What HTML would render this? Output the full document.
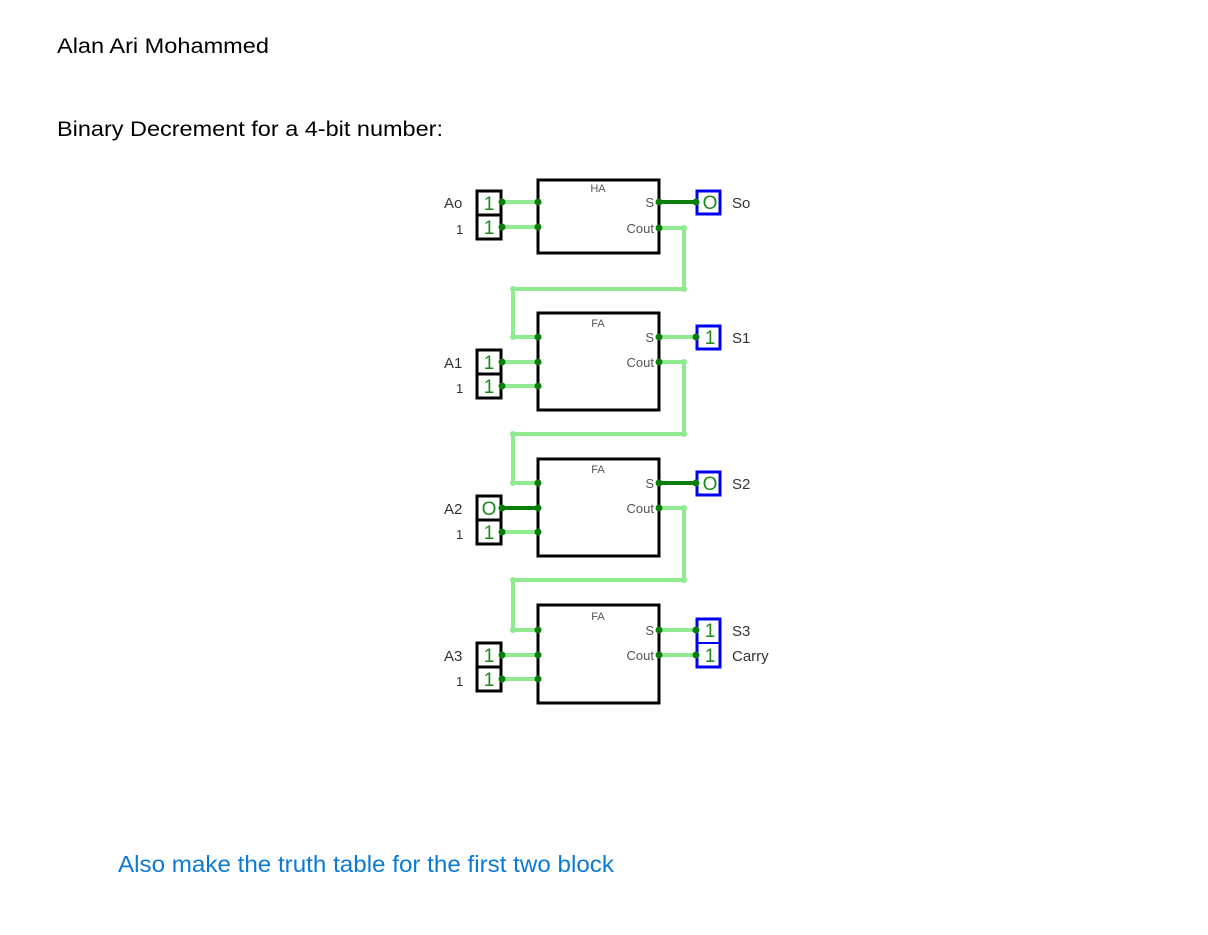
<!DOCTYPE html>
<html><head><meta charset="utf-8"><style>
html,body{margin:0;padding:0;background:#fff;width:1208px;height:935px;overflow:hidden}
svg{display:block}
</style></head><body>
<svg width="1208" height="935" viewBox="0 0 1208 935" xmlns="http://www.w3.org/2000/svg" font-family="Liberation Sans, sans-serif">
<rect width="1208" height="935" fill="#fff"/>
<text x="57" y="53" font-size="21" fill="#000" textLength="212" lengthAdjust="spacingAndGlyphs">Alan Ari Mohammed</text>
<text x="57" y="136" font-size="21" fill="#000" textLength="386" lengthAdjust="spacingAndGlyphs">Binary Decrement for a 4-bit number:</text>
<text x="118" y="872" font-size="23" fill="#0a7ad6" textLength="496" lengthAdjust="spacingAndGlyphs">Also make the truth table for the first two block</text>

<g stroke-linecap="square">
<!-- light wires -->
<g stroke="#90ea90" stroke-width="4" fill="none">
 <!-- block0 -->
 <line x1="501" y1="202" x2="538" y2="202"/>
 <line x1="501" y1="227" x2="538" y2="227"/>
 <polyline points="659,228 684,228 684,289 513,289 513,337 538,337"/>
 <!-- block1 -->
 <line x1="501" y1="362" x2="538" y2="362"/>
 <line x1="501" y1="386" x2="538" y2="386"/>
 <line x1="659" y1="337" x2="696" y2="337"/>
 <polyline points="659,362 684,362 684,434 513,434 513,483 538,483"/>
 <!-- block2 -->
 <line x1="501" y1="532" x2="538" y2="532"/>
 <polyline points="659,508 684,508 684,580 513,580 513,630 538,630"/>
 <!-- block3 -->
 <line x1="501" y1="655" x2="538" y2="655"/>
 <line x1="501" y1="679" x2="538" y2="679"/>
 <line x1="659" y1="630" x2="696" y2="630"/>
 <line x1="659" y1="655" x2="696" y2="655"/>
</g>
<!-- dark wires -->
<g stroke="#0a7d0a" stroke-width="4">
 <line x1="659" y1="202" x2="696" y2="202"/>
 <line x1="659" y1="483" x2="696" y2="483"/>
 <line x1="501" y1="508" x2="538" y2="508"/>
</g>
</g>
<!-- light endpoints -->
<g fill="#90ea90">
 <circle cx="684" cy="228" r="3"/><circle cx="684" cy="289" r="3"/><circle cx="513" cy="289" r="3"/><circle cx="513" cy="337" r="3"/>
 <circle cx="684" cy="362" r="3"/><circle cx="684" cy="434" r="3"/><circle cx="513" cy="434" r="3"/><circle cx="513" cy="483" r="3"/>
 <circle cx="684" cy="508" r="3"/><circle cx="684" cy="580" r="3"/><circle cx="513" cy="580" r="3"/><circle cx="513" cy="630" r="3"/>
</g>

<!-- blocks -->
<g fill="none" stroke="#000" stroke-width="3">
 <rect x="538" y="180" width="121" height="73"/>
 <rect x="538" y="313" width="121" height="97"/>
 <rect x="538" y="459" width="121" height="97"/>
 <rect x="538" y="605" width="121" height="98"/>
</g>
<g font-size="11" fill="#555" text-anchor="middle">
 <text x="598" y="192">HA</text>
 <text x="598" y="327">FA</text>
 <text x="598" y="473">FA</text>
 <text x="598" y="620">FA</text>
</g>
<g font-size="13" fill="#555" text-anchor="end">
 <text x="654" y="207">S</text><text x="654" y="233">Cout</text>
 <text x="654" y="342">S</text><text x="654" y="367">Cout</text>
 <text x="654" y="488">S</text><text x="654" y="513">Cout</text>
 <text x="654" y="635">S</text><text x="654" y="660">Cout</text>
</g>

<!-- input boxes -->
<g fill="#fff" stroke="#000" stroke-width="3">
 <rect x="477" y="191" width="24" height="24"/><rect x="477" y="215" width="24" height="24"/>
 <rect x="477" y="350" width="24" height="24"/><rect x="477" y="374" width="24" height="24"/>
 <rect x="477" y="496" width="24" height="24"/><rect x="477" y="520" width="24" height="24"/>
 <rect x="477" y="643" width="24" height="24"/><rect x="477" y="667" width="24" height="24"/>
</g>
<!-- output boxes -->
<g fill="#fff" stroke="#0000ee" stroke-width="3">
 <rect x="697" y="191" width="23" height="23"/>
 <rect x="697" y="326" width="23" height="23"/>
 <rect x="697" y="472" width="23" height="23"/>
 <rect x="697" y="619" width="23" height="48"/>
</g>
<line x1="697" y1="643" x2="720" y2="643" stroke="#0000ee" stroke-width="2"/>

<g font-size="19" fill="#1a8a1a" text-anchor="middle">
 <text x="489" y="210">1</text><text x="489" y="234">1</text>
 <text x="489" y="369">1</text><text x="489" y="393">1</text>
 <text x="489" y="515">O</text><text x="489" y="539">1</text>
 <text x="489" y="662">1</text><text x="489" y="686">1</text>
 <text x="710" y="209">O</text>
 <text x="710" y="344">1</text>
 <text x="710" y="490">O</text>
 <text x="710" y="637">1</text><text x="710" y="662">1</text>
</g>

<!-- dark dots -->
<g fill="#0a7d0a">
 <circle cx="502" cy="202" r="3.5"/><circle cx="502" cy="227" r="3.5"/><circle cx="538" cy="202" r="3.5"/><circle cx="538" cy="227" r="3.5"/>
 <circle cx="659" cy="202" r="3.5"/><circle cx="659" cy="228" r="3.5"/><circle cx="696" cy="202" r="3.5"/>
 <circle cx="502" cy="362" r="3.5"/><circle cx="502" cy="386" r="3.5"/><circle cx="538" cy="337" r="3.5"/><circle cx="538" cy="362" r="3.5"/><circle cx="538" cy="386" r="3.5"/>
 <circle cx="659" cy="337" r="3.5"/><circle cx="659" cy="362" r="3.5"/><circle cx="696" cy="337" r="3.5"/>
 <circle cx="502" cy="508" r="3.5"/><circle cx="502" cy="532" r="3.5"/><circle cx="538" cy="483" r="3.5"/><circle cx="538" cy="508" r="3.5"/><circle cx="538" cy="532" r="3.5"/>
 <circle cx="659" cy="483" r="3.5"/><circle cx="659" cy="508" r="3.5"/><circle cx="696" cy="483" r="3.5"/>
 <circle cx="502" cy="655" r="3.5"/><circle cx="502" cy="679" r="3.5"/><circle cx="538" cy="630" r="3.5"/><circle cx="538" cy="655" r="3.5"/><circle cx="538" cy="679" r="3.5"/>
 <circle cx="659" cy="630" r="3.5"/><circle cx="659" cy="655" r="3.5"/><circle cx="696" cy="630" r="3.5"/><circle cx="696" cy="655" r="3.5"/>
</g>

<!-- labels -->
<g font-size="15" fill="#333">
 <text x="444" y="208">Ao</text><text x="456" y="234" font-size="13">1</text>
 <text x="444" y="368">A1</text><text x="456" y="393" font-size="13">1</text>
 <text x="444" y="514">A2</text><text x="456" y="539" font-size="13">1</text>
 <text x="444" y="661">A3</text><text x="456" y="686" font-size="13">1</text>
 <text x="732" y="208">So</text>
 <text x="732" y="343">S1</text>
 <text x="732" y="489">S2</text>
 <text x="732" y="636">S3</text>
 <text x="732" y="661">Carry</text>
</g>
</svg>
</body></html>
